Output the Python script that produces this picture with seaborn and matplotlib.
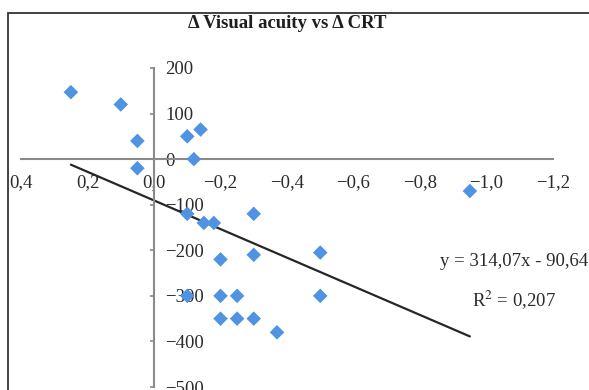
import pandas as pd
import seaborn as sns
import matplotlib.pyplot as plt
from matplotlib.patches import Rectangle

# values (change in visual acuity vs change in CRT)
delta_va = [0.25, 0.10, 0.05, 0.05, -0.10, -0.14, -0.12, -0.10, -0.15, -0.18,
            -0.30, -0.20, -0.30, -0.50, -0.10, -0.20, -0.25, -0.50, -0.20,
            -0.25, -0.30, -0.37, -0.95]
delta_crt = [147, 120, 40, -20, 50, 65, 0, -120, -140, -140,
             -120, -220, -210, -205, -300, -300, -300, -300, -350,
             -350, -350, -380, -70]

# trend line as given in the figure
slope = 314.07
intercept = -90.64
fit_x = [0.25, -0.95]

x_ticks = [0.4, 0.2, 0.0, -0.2, -0.4, -0.6, -0.8, -1.0, -1.2]
y_ticks = [200, 100, 0, -100, -200, -300, -400, -500]

df = pd.DataFrame({"va": delta_va, "crt": delta_crt})
fit = pd.DataFrame({"x": fit_x, "y": [slope * v + intercept for v in fit_x]})

sns.set_style("white")
plt.rcParams["font.family"] = ["Liberation Serif", "DejaVu Serif"]
plt.rcParams["mathtext.fontset"] = "stix"

fig = plt.figure(figsize=(5.89, 3.90), dpi=100)
ax = fig.add_axes([21 / 589, 3 / 390, 532 / 589, 319 / 390])

sns.lineplot(data=fit, x="x", y="y", color="#262626", linewidth=1.6, ax=ax)
sns.scatterplot(data=df, x="va", y="crt", marker="D", s=55, color="#4F93E2",
                edgecolor="none", ax=ax, zorder=3)

ax.set_xlim(0.4, -1.2)
ax.set_ylim(-500, 200)

for s in ["top", "left"]:
    ax.spines[s].set_visible(False)
ax.spines["bottom"].set_position(("data", 0))
ax.spines["right"].set_position(("data", 0))
for s in ["bottom", "right"]:
    ax.spines[s].set_color("#8a8a8a")
    ax.spines[s].set_linewidth(1.5)

ax.yaxis.tick_right()
ax.set_xticks(x_ticks)
ax.set_xticklabels([f"{v:.1f}".replace(".", ",").replace("-", "\u2212") for v in x_ticks])
ax.set_yticks(y_ticks)
ax.set_yticklabels([str(v).replace("-", "\u2212") for v in y_ticks])
ax.tick_params(axis="x", direction="inout", length=4, width=1.2, color="#8a8a8a",
               labelsize=13.5, pad=9, labelcolor="#2b2b2b")
ax.tick_params(axis="y", direction="in", length=3, width=1.2, color="#8a8a8a",
               labelsize=13.5, pad=8, labelcolor="#2b2b2b")
for lab in ax.get_yticklabels():
    lab.set_horizontalalignment("left")
ax.set_xlabel("")
ax.set_ylabel("")

fig.text(287 / 589, 1 - 23 / 390, "\u0394 Visual acuity vs \u0394 CRT",
         ha="center", va="center", fontsize=13.5, fontweight="bold", color="#1e1e1e")
fig.text(514 / 589, 1 - 262 / 390, "y = 314,07x - 90,64",
         ha="center", va="center", fontsize=13.5, color="#2b2b2b")
fig.text(514 / 589, 1 - 300 / 390, "R$^2$ = 0,207",
         ha="center", va="center", fontsize=13.5, color="#2b2b2b")

fig.patches.append(Rectangle((8 / 589, -0.1), 1.0, 1.1 - 13 / 390, transform=fig.transFigure,
                             fill=False, edgecolor="#333333", linewidth=1.3))

plt.savefig("out.png", dpi=100)
plt.close()
